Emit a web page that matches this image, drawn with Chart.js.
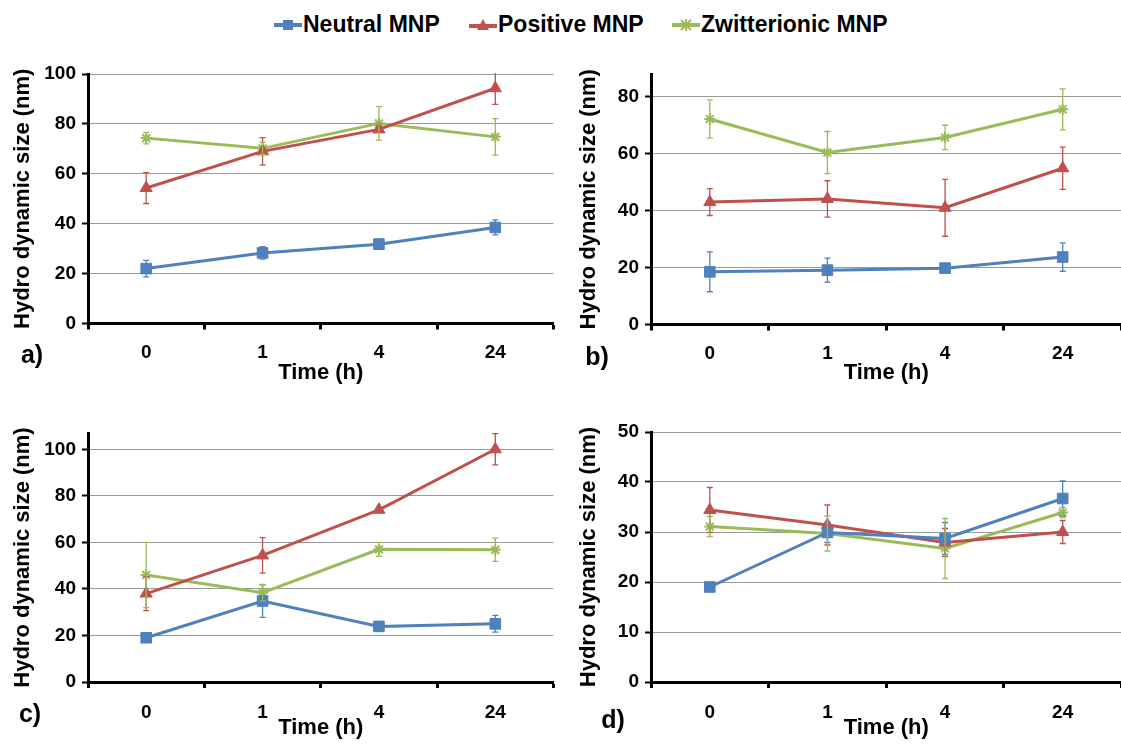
<!DOCTYPE html>
<html>
<head>
<meta charset="utf-8">
<script src="https://cdn.jsdelivr.net/npm/chart.js@4.4.1/dist/chart.umd.min.js"></script>
<style>
  html, body { margin: 0; padding: 0; background: #fff; overflow: hidden; }
  body { width: 1121px; height: 745px; position: relative; font-family: "Liberation Sans", Arial, sans-serif; font-weight: bold; }
  canvas { position: absolute; }
  .legend-item { position: absolute; top: 11px; font-size: 23px; line-height: 27px; white-space: nowrap; display: flex; align-items: center; }
  .legend-item svg { margin-right: 1px; }
  .panel { position: absolute; font-size: 25px; line-height: 25px; transform: translate(-50%, -50%); }
</style>
</head>
<body>

<div class="legend-item" style="left:274px">
  <svg width="28" height="14"><line x1="0" y1="7" x2="28" y2="7" stroke="#4F81BD" stroke-width="4"/><rect x="9" y="2" width="10" height="10" fill="#4F81BD"/></svg>Neutral MNP
</div>
<div class="legend-item" style="left:469px">
  <svg width="28" height="14"><line x1="0" y1="8" x2="28" y2="8" stroke="#C0504D" stroke-width="4"/><polygon points="14,1 20,12 8,12" fill="#C0504D"/></svg>Positive MNP
</div>
<div class="legend-item" style="left:672px">
  <svg width="28" height="14"><line x1="0" y1="7" x2="28" y2="7" stroke="#9BBB59" stroke-width="4"/><path d="M9 2 L19 12 M19 2 L9 12 M14 1 L14 13" stroke="#9BBB59" stroke-width="2"/></svg>Zwitterionic MNP
</div>

<canvas id="chartA" width="562" height="340" style="left:0;top:50px"></canvas>
<canvas id="chartB" width="570" height="340" style="left:560px;top:50px"></canvas>
<canvas id="chartC" width="562" height="335" style="left:0;top:410px"></canvas>
<canvas id="chartD" width="570" height="335" style="left:560px;top:410px"></canvas>

<div class="panel" style="left:32px;top:354px">a)</div>
<div class="panel" style="left:597px;top:356px">b)</div>
<div class="panel" style="left:30px;top:713px">c)</div>
<div class="panel" style="left:613px;top:719px">d)</div>

<script>
// =====================
// DATA
// =====================
const times = ["0", "1", "4", "24"];
const seriesNames = ["Neutral MNP", "Positive MNP", "Zwitterionic MNP"];

// a)
const neutralA = [22, 28.3, 31.8, 38.5];
const neutralErrA = [3.3, 2.5, 2, 3];
const positiveA = [54.3, 69, 77.8, 94.3];
const positiveErrA = [6.2, 5.5, 1, 6.5];
const zwitterA = [74.3, 70.2, 80.2, 74.8];
const zwitterErrA = [2.3, 2.5, 6.7, 7.3];

// b)
const neutralB = [18.5, 19.1, 19.8, 23.7];
const neutralErrB = [7, 4.2, 1, 5];
const positiveB = [43, 44.1, 41, 54.9];
const positiveErrB = [4.7, 6.4, 10, 7.4];
const zwitterB = [72.2, 60.4, 65.7, 75.6];
const zwitterErrB = [6.7, 7.4, 4.3, 7.2];

// c)
const neutralC = [19, 34.8, 23.9, 25];
const neutralErrC = [1.5, 7, 1, 3.6];
const positiveC = [38, 54.4, 74, 100];
const positiveErrC = [7.3, 7.6, 0.5, 6.7];
const zwitterC = [46, 38.4, 57, 56.8];
const zwitterErrC = [14, 3.5, 3, 5];

// d)
const neutralD = [19, 29.9, 28.7, 36.7];
const neutralErrD = [0.5, 2, 3.2, 3.5];
const positiveD = [34.4, 31.4, 27.9, 30];
const positiveErrD = [4.5, 4, 2.8, 2.3];
const zwitterD = [31.1, 29.7, 26.7, 33.9];
const zwitterErrD = [2, 3.5, 6, 1];

const colors = ["#4F81BD", "#C0504D", "#9BBB59"];

Chart.defaults.font.family = "'Liberation Sans', Arial, sans-serif";
Chart.defaults.font.weight = "bold";
Chart.defaults.color = "#000";

// =====================
// ERROR BARS
// =====================
const errorBars = {
  id: "errorBars",
  afterDatasetsDraw(chart) {
    const ctx = chart.ctx;
    const y = chart.scales.y;
    const area = chart.chartArea;
    ctx.save();
    ctx.beginPath();
    ctx.rect(area.left, area.top - 1, area.right - area.left, area.bottom - area.top + 1);
    ctx.clip();
    chart.data.datasets.forEach((ds, i) => {
      const meta = chart.getDatasetMeta(i);
      ctx.strokeStyle = ds.borderColor;
      ctx.lineWidth = 1.3;
      meta.data.forEach((pt, j) => {
        const top = y.getPixelForValue(ds.data[j] + ds.errors[j]);
        const bot = y.getPixelForValue(ds.data[j] - ds.errors[j]);
        ctx.beginPath();
        ctx.moveTo(pt.x, top); ctx.lineTo(pt.x, bot);
        ctx.moveTo(pt.x - 3, top); ctx.lineTo(pt.x + 3, top);
        ctx.moveTo(pt.x - 3, bot); ctx.lineTo(pt.x + 3, bot);
        ctx.stroke();
      });
    });
    ctx.restore();
  }
};

// =====================
// CHART BUILDER
// =====================
function makeChart(id, values, errors, cfg) {
  const styles = ["rect", "triangle", "star"];
  const radii = [7.5, 7, 5.5];
  const datasets = values.map((v, i) => ({
    label: seriesNames[i],
    data: v,
    errors: errors[i],
    borderColor: colors[i],
    backgroundColor: colors[i],
    borderWidth: 3,
    pointStyle: styles[i],
    pointRadius: radii[i],
    pointBorderWidth: i === 2 ? 2 : 1,
    tension: 0
  }));

  return new Chart(document.getElementById(id), {
    type: "line",
    data: { labels: times, datasets: datasets },
    plugins: [errorBars],
    options: {
      responsive: false,
      animation: false,
      layout: { padding: { top: cfg.padTop, right: cfg.padRight, left: 0, bottom: 0 } },
      plugins: { legend: { display: false }, tooltip: { enabled: false } },
      scales: {
        x: {
          offset: true,
          grid: { offset: true, drawOnChartArea: false, drawTicks: true, tickLength: 6, tickColor: "#000", tickWidth: 3 },
          border: { display: true, color: "#000", width: 3 },
          ticks: { font: { size: 19, weight: "bold" }, padding: cfg.xTickPad, maxRotation: 0 },
          title: { display: true, text: "Time (h)", font: { size: 22, weight: "bold" }, padding: { top: 0, bottom: 4 } },
          afterFit: s => { s.height = cfg.xHeight; }
        },
        y: {
          min: 0,
          max: cfg.yMax,
          grid: { color: "#9a9a9a", lineWidth: 1, tickLength: 6, tickColor: "#000", tickWidth: 2 },
          border: { display: true, color: "#000", width: 3 },
          ticks: { stepSize: cfg.yStep, includeBounds: false, font: { size: 19, weight: "bold" }, padding: 6 },
          title: { display: true, text: "Hydro dynamic size (nm)", font: { size: 22, weight: "bold" }, padding: { top: cfg.yTitlePad, bottom: 0 } },
          afterFit: s => { s.width = cfg.yWidth; }
        }
      }
    }
  });
}

makeChart("chartA", [neutralA, positiveA, zwitterA], [neutralErrA, positiveErrA, zwitterErrA],
  { yMax: 100, yStep: 20, padTop: 24, padRight: 2, yWidth: 88, yTitlePad: 10, xHeight: 66.5, xTickPad: 12 });

makeChart("chartB", [neutralB, positiveB, zwitterB], [neutralErrB, positiveErrB, zwitterErrB],
  { yMax: 88, yStep: 20, padTop: 24, padRight: 5, yWidth: 91, yTitlePad: 16, xHeight: 65.5, xTickPad: 12 });

makeChart("chartC", [neutralC, positiveC, zwitterC], [neutralErrC, positiveErrC, zwitterErrC],
  { yMax: 107, yStep: 20, padTop: 23, padRight: 2, yWidth: 88, yTitlePad: 10, xHeight: 63, xTickPad: 13 });

makeChart("chartD", [neutralD, positiveD, zwitterD], [neutralErrD, positiveErrD, zwitterErrD],
  { yMax: 50, yStep: 10, padTop: 22, padRight: 5, yWidth: 91, yTitlePad: 16, xHeight: 63, xTickPad: 13 });
</script>
</body>
</html>
